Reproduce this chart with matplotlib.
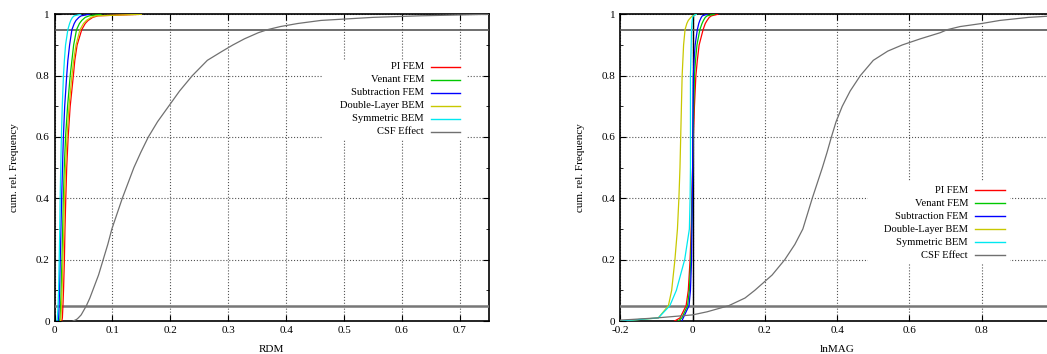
import numpy as np
import matplotlib
matplotlib.use('Agg')
import matplotlib.pyplot as plt
from matplotlib.patches import Rectangle

plt.rcParams['font.family'] = ['Liberation Serif', 'DejaVu Serif']
plt.rcParams['font.size'] = 8

# cumulative frequency levels, and the value reached at each level
levels = [0, 0.01, 0.05, 0.1, 0.2, 0.3, 0.4, 0.5, 0.6, 0.7, 0.8, 0.85, 0.9, 0.95, 0.97, 0.98, 0.99, 0.995, 1.0]
csf_levels = [0, 0.005, 0.01, 0.02, 0.03, 0.05, 0.075, 0.1, 0.15, 0.2, 0.25, 0.3, 0.35, 0.4, 0.45, 0.5,
              0.55, 0.6, 0.65, 0.7, 0.75, 0.8, 0.85, 0.88, 0.9, 0.92, 0.94, 0.95, 0.96, 0.97, 0.98, 0.99, 0.995, 1.0]

series_names = ['PI FEM', 'Venant FEM', 'Subtraction FEM', 'Double-Layer BEM', 'Symmetric BEM', 'CSF Effect']
series_colors = ['#ff0000', '#00c800', '#0000ff', '#c8c800', '#00e8f0', '#707070']

# RDM
rdm_pi = [0.0125, 0.0135, 0.0145, 0.0155, 0.017, 0.018, 0.0194, 0.021, 0.0235, 0.027, 0.0325, 0.035, 0.039, 0.047, 0.053, 0.058, 0.066, 0.075, 0.15]
rdm_venant = [0.0085, 0.0095, 0.0105, 0.0114, 0.0128, 0.014, 0.0152, 0.0168, 0.019, 0.0225, 0.027, 0.030, 0.033, 0.038, 0.043, 0.047, 0.053, 0.060, 0.08]
rdm_subtr = [0.006, 0.007, 0.0078, 0.0086, 0.0098, 0.011, 0.0123, 0.0137, 0.0153, 0.0175, 0.021, 0.023, 0.026, 0.030, 0.034, 0.037, 0.042, 0.046, 0.06]
rdm_dlbem = [0.0105, 0.011, 0.012, 0.013, 0.0145, 0.016, 0.017, 0.019, 0.0215, 0.025, 0.030, 0.033, 0.037, 0.044, 0.050, 0.055, 0.063, 0.072, 0.15]
rdm_symbem = [0.004, 0.005, 0.006, 0.007, 0.008, 0.009, 0.0097, 0.0107, 0.0118, 0.0133, 0.0154, 0.017, 0.019, 0.023, 0.026, 0.028, 0.031, 0.034, 0.045]
rdm_csf = [0.032, 0.038, 0.041, 0.046, 0.049, 0.055, 0.061, 0.066, 0.076, 0.084, 0.092, 0.099, 0.108, 0.117, 0.127, 0.137,
           0.149, 0.162, 0.178, 0.197, 0.216, 0.238, 0.264, 0.290, 0.308, 0.328, 0.352, 0.368, 0.39, 0.42, 0.46, 0.55, 0.63, 0.75]

# lnMAG
mag_pi = [-0.05, -0.035, -0.018, -0.012, -0.007, -0.004, -0.002, 0.0, 0.002, 0.005, 0.009, 0.013, 0.018, 0.029, 0.035, 0.040, 0.046, 0.052, 0.07]
mag_venant = [-0.04, -0.03, -0.014, -0.009, -0.005, -0.003, -0.001, 0.0, 0.001, 0.003, 0.005, 0.008, 0.012, 0.020, 0.026, 0.030, 0.035, 0.040, 0.06]
mag_subtr = [-0.03, -0.026, -0.010, -0.006, -0.003, -0.002, -0.001, 0.0, 0.0005, 0.001, 0.002, 0.004, 0.007, 0.013, 0.017, 0.020, 0.024, 0.027, 0.04]
mag_dlbem = [-0.20, -0.095, -0.067, -0.058, -0.049, -0.042, -0.038, -0.035, -0.033, -0.031, -0.029, -0.027, -0.025, -0.021, -0.016, -0.012, -0.005, 0.0, 0.01]
mag_symbem = [-0.20, -0.095, -0.063, -0.045, -0.022, -0.009, -0.007, -0.006, -0.006, -0.006, -0.006, -0.005, -0.004, -0.003, -0.002, -0.001, 0.0, 0.002, 0.01]
mag_csf = [-0.25, -0.17, -0.10, 0.0, 0.04, 0.10, 0.145, 0.172, 0.22, 0.255, 0.283, 0.305, 0.318, 0.331, 0.345, 0.359,
           0.372, 0.384, 0.397, 0.414, 0.436, 0.464, 0.50, 0.54, 0.58, 0.63, 0.685, 0.705, 0.74, 0.80, 0.85, 0.93, 1.0, 1.1]

rdm_data = [rdm_pi, rdm_venant, rdm_subtr, rdm_dlbem, rdm_symbem, rdm_csf]
mag_data = [mag_pi, mag_venant, mag_subtr, mag_dlbem, mag_symbem, mag_csf]


def style_axes(ax):
    ax.set_ylim(0, 1)
    ax.set_yticks([0, 0.2, 0.4, 0.6, 0.8, 1.0])
    ax.set_yticklabels(['0', '0.2', '0.4', '0.6', '0.8', '1'])
    ax.set_yticks([0.1, 0.3, 0.5, 0.7, 0.9], minor=True)
    ax.tick_params(which='both', direction='in', top=True, right=True, labelsize=8)
    ax.tick_params(which='major', length=4)
    ax.tick_params(which='minor', length=2)
    ax.grid(True, which='major', linestyle=':', color='#555555', linewidth=0.8)
    for s in ax.spines.values():
        s.set_linewidth(1.2)
    ax.set_ylabel('cum. rel. Frequency', fontsize=8, labelpad=12)
    ax.axhline(0.95, color='#555555', linewidth=1.2, zorder=3)
    ax.axhline(0.05, color='#777777', linewidth=1.8, zorder=3)


def key(ax, x_text, x0, x1, y_top, box):
    # gnuplot-style key: labels right-aligned, sample line to the right
    ax.add_patch(Rectangle((box[0], box[1]), box[2] - box[0], box[3] - box[1],
                           transform=ax.transAxes, facecolor='white', edgecolor='none', zorder=2))
    for i, (name, col) in enumerate(zip(series_names, series_colors)):
        y = y_top - i * 0.0424
        ax.text(x_text, y, name, transform=ax.transAxes, ha='right', va='center', fontsize=7.6, zorder=5)
        ax.plot([x0, x1], [y, y], transform=ax.transAxes, color=col, linewidth=1.0, zorder=5)


fig = plt.figure(figsize=(10.47, 3.54), dpi=100)
ax1 = fig.add_axes([0.0521, 0.0932, 0.4147, 0.8664])
ax2 = fig.add_axes([0.5925, 0.0932, 0.4142, 0.8664])

# RDM
for i, (xs, col) in enumerate(zip(rdm_data, series_colors)):
    lv = csf_levels if i == 5 else levels
    ax1.plot(xs, lv, color=col, linewidth=0.9, zorder=4)
ax1.set_xlim(0, 0.75)
ax1.set_xticks([0, 0.1, 0.2, 0.3, 0.4, 0.5, 0.6, 0.7])
ax1.set_xticklabels(['0', '0.1', '0.2', '0.3', '0.4', '0.5', '0.6', '0.7'])
style_axes(ax1)
ax1.set_xlabel('RDM', fontsize=8, labelpad=7)
key(ax1, 0.851, 0.867, 0.934, 0.829, (0.618, 0.593, 0.95, 0.848))

# lnMAG
for i, (xs, col) in enumerate(zip(mag_data, series_colors)):
    lv = csf_levels if i == 5 else levels
    ax2.plot(xs, lv, color=col, linewidth=0.9, zorder=4)
ax2.axvline(0, color='black', linewidth=1.0, zorder=3)
ax2.set_xlim(-0.2, 1.0)
ax2.set_xticks([-0.2, 0, 0.2, 0.4, 0.6, 0.8])
ax2.set_xticklabels(['-0.2', '0', '0.2', '0.4', '0.6', '0.8'])
style_axes(ax2)
ax2.set_xlabel('lnMAG', fontsize=8, labelpad=7)
key(ax2, 0.8017, 0.818, 0.887, 0.427, (0.571, 0.189, 0.899, 0.454))

fig.savefig('out.png', dpi=100)
